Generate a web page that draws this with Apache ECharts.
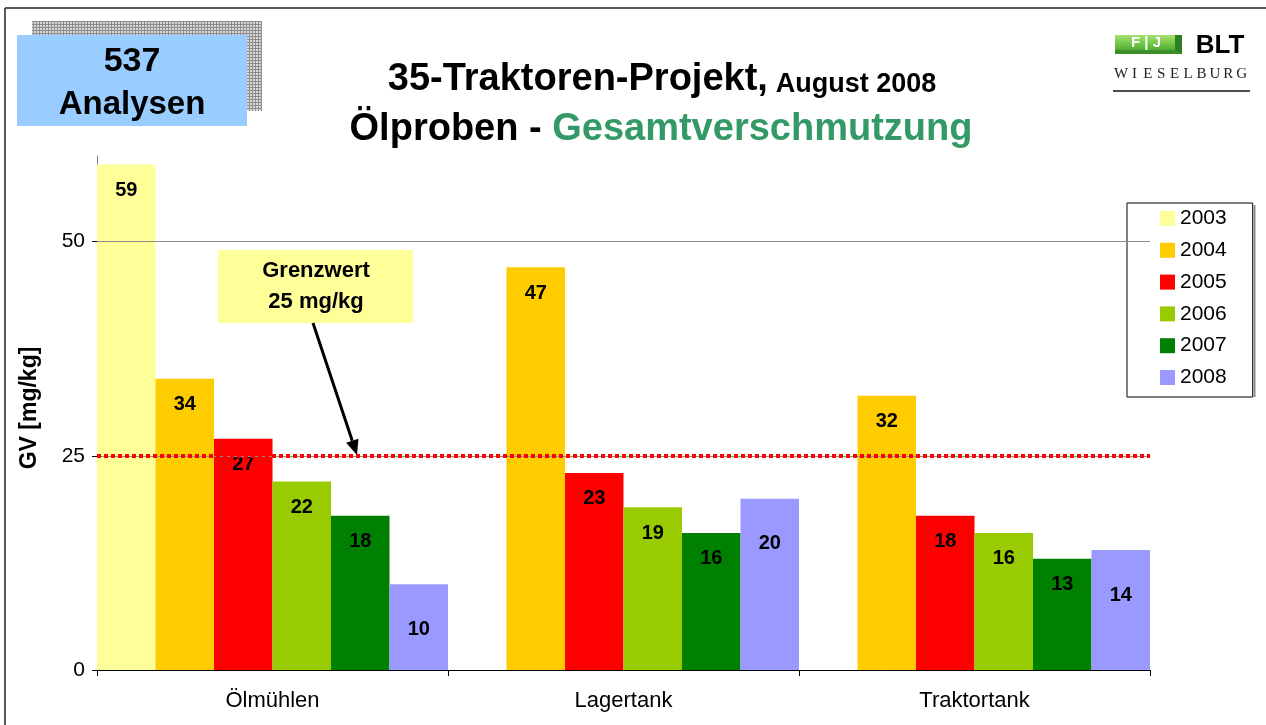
<!DOCTYPE html>
<html>
<head>
<meta charset="utf-8">
<script src="https://cdn.jsdelivr.net/npm/echarts@6/dist/echarts.min.js"></script>
<style>
html,body{margin:0;padding:0;background:#fff;}
#chart{width:1266px;height:725px;}
</style>
</head>
<body>
<div id="chart"></div>
<script>
// ---- data ----
const categories = ['Ölmühlen', 'Lagertank', 'Traktortank'];
const years = ['2003', '2004', '2005', '2006', '2007', '2008'];
const v2003 = [59, null, null];
const v2004 = [34, 47, 32];
const v2005 = [27, 23, 18];
const v2006 = [22, 19, 16];
const v2007 = [18, 16, 13];
const v2008 = [10, 20, 14];
const yTicks = [0, 25, 50];
const limitValue = 25;
const analysesCount = '537';

// ---- styling ----
const FONT = 'Liberation Sans, Arial, sans-serif';
const colors = ['#FFFF99', '#FFCC00', '#FF0000', '#99CC00', '#008000', '#9999FF'];
const seriesValues = [v2003, v2004, v2005, v2006, v2007, v2008];
const labelDistances = [16, 16, 16, 16, 16, 35];

// pattern for the shadow box
const pc = document.createElement('canvas');
pc.width = 3; pc.height = 3;
const pctx = pc.getContext('2d');
pctx.fillStyle = '#d8d8d8'; pctx.fillRect(0, 0, 3, 3);
pctx.fillStyle = '#8c8c8c'; pctx.fillRect(0, 0, 3, 1); pctx.fillRect(0, 0, 1, 3);

const chart = echarts.init(document.getElementById('chart'), null, {renderer: 'canvas'});

const barSeries = years.map((y, i) => ({
  name: y,
  type: 'bar',
  data: seriesValues[i],
  barGap: '0%',
  barCategoryGap: '0%',
  itemStyle: {color: colors[i], borderWidth: 0},
  label: {
    show: true,
    position: 'insideTop',
    distance: labelDistances[i],
    color: '#000',
    fontFamily: FONT,
    fontSize: 20,
    fontWeight: 'bold'
  },
  emphasis: {disabled: true},
  z: 2
}));

// arrow geometry (annotation)
const tip = [357, 455], tail = [313, 323];
const dx = tip[0] - tail[0], dy = tip[1] - tail[1];
const len = Math.sqrt(dx * dx + dy * dy);
const ux = dx / len, uy = dy / len;
const headL = 15, headW = 6.5;
const base = [tip[0] - ux * headL, tip[1] - uy * headL];
const px = -uy * headW, py = ux * headW;

const wieselburg = 'WIESELBURG'.split('').map((ch, i) => ({
  type: 'text',
  x: 1121 + i * 13.4,
  y: 74,
  style: {text: ch, fontFamily: 'Liberation Serif, Times New Roman, serif', fontSize: 15, fill: '#222', textAlign: 'center', textVerticalAlign: 'middle'}
}));

const option = {
  backgroundColor: '#fff',
  animation: false,
  grid: {left: 97, right: 116, top: 156, bottom: 55, containLabel: false, outerBoundsMode: 'none'},
  legend: {
    data: years,
    orient: 'vertical',
    left: 1127,
    top: 203,
    padding: [5, 26, 9, 33],
    itemGap: 10.8,
    itemWidth: 15,
    itemHeight: 15,
    icon: 'rect',
    selectedMode: false,
    backgroundColor: '#fff',
    borderColor: '#000',
    borderWidth: 1,
    borderRadius: 0,
    itemStyle: {borderWidth: 0},
    textStyle: {fontFamily: FONT, fontSize: 21, color: '#000', lineHeight: 20}
  },
  xAxis: {
    type: 'category',
    data: categories,
    boundaryGap: true,
    axisLine: {show: true, lineStyle: {color: '#000', width: 1}},
    axisTick: {show: true, length: 6, lineStyle: {color: '#000'}},
    axisLabel: {fontFamily: FONT, fontSize: 22, color: '#000', margin: 20},
    splitLine: {show: false}
  },
  yAxis: {
    type: 'value',
    min: 0,
    max: 60,
    interval: 25,
    axisLine: {show: true, lineStyle: {color: '#808080', width: 1}},
    axisTick: {show: true, length: 5, inside: false, lineStyle: {color: '#000'}, customValues: yTicks},
    axisLabel: {fontFamily: FONT, fontSize: 21, color: '#000', margin: 12, customValues: yTicks},
    splitLine: {show: false}
  },
  series: barSeries.concat([
    {
      type: 'line',
      data: [],
      silent: true,
      z: 1,
      markLine: {
        silent: true,
        symbol: 'none',
        label: {show: false},
        lineStyle: {color: '#8c8c8c', width: 1.2, type: 'solid'},
        data: yTicks.filter(t => t > 0).map(t => ({yAxis: t}))
      }
    },
    {
      type: 'line',
      data: [],
      silent: true,
      z: 5,
      markLine: {
        silent: true,
        symbol: 'none',
        label: {show: false},
        lineStyle: {color: '#FF0000', width: 4, type: [4, 3]},
        data: [{yAxis: limitValue}]
      }
    }
  ]),
  graphic: [
    // outer frame
    {type: 'line', shape: {x1: 5, y1: 8, x2: 1266, y2: 8}, style: {stroke: '#222', lineWidth: 1.5}, z: 50},
    {type: 'line', shape: {x1: 5, y1: 8, x2: 5, y2: 725}, style: {stroke: '#222', lineWidth: 1.5}, z: 50},
    // legend right shade
    {type: 'line', shape: {x1: 1254.5, y1: 205, x2: 1254.5, y2: 397}, style: {stroke: '#8a8a8a', lineWidth: 2}, z: 50},
    // analyses box
    {type: 'rect', shape: {x: 32, y: 21, width: 230, height: 90}, style: {fill: {image: pc, repeat: 'repeat'}}, z: 50},
    {type: 'rect', shape: {x: 17, y: 35, width: 230, height: 91}, style: {fill: '#99CCFF'}, z: 51},
    {type: 'text', x: 132, y: 62, z: 52, style: {text: analysesCount, fontFamily: FONT, fontSize: 34, fontWeight: 'bold', fill: '#000', textAlign: 'center', textVerticalAlign: 'middle'}},
    {type: 'text', x: 132, y: 105, z: 52, style: {text: 'Analysen', fontFamily: FONT, fontSize: 33, fontWeight: 'bold', fill: '#000', textAlign: 'center', textVerticalAlign: 'middle'}},
    // title
    {type: 'text', x: 662, y: 80, z: 52, style: {
      text: '{a|35-Traktoren-Projekt,}{s| }{b|August 2008}',
      rich: {
        a: {fontFamily: FONT, fontSize: 38, fontWeight: 'bold', fill: '#000', verticalAlign: 'bottom'},
        s: {fontFamily: FONT, fontSize: 28, verticalAlign: 'bottom'},
        b: {fontFamily: FONT, fontSize: 27, fontWeight: 'bold', fill: '#000', verticalAlign: 'bottom', padding: [0, 0, 1, 0]}
      },
      textAlign: 'center', textVerticalAlign: 'middle'}},
    {type: 'text', x: 661, y: 130, z: 52, style: {
      text: '{a|Ölproben - }{g|Gesamtverschmutzung}',
      rich: {
        a: {fontFamily: FONT, fontSize: 38, fontWeight: 'bold', fill: '#000'},
        g: {fontFamily: FONT, fontSize: 38, fontWeight: 'bold', fill: '#339966'}
      },
      textAlign: 'center', textVerticalAlign: 'middle'}},
    // logo
    {type: 'rect', shape: {x: 1115, y: 35, width: 67, height: 19}, z: 52, style: {fill: new echarts.graphic.LinearGradient(0, 0, 0, 1, [{offset: 0, color: '#a8e070'}, {offset: 0.5, color: '#6cc444'}, {offset: 1, color: '#3f9a2c'}])}},
    {type: 'polygon', shape: {points: [[1175, 35], [1182, 35], [1182, 54], [1175, 50]]}, z: 53, style: {fill: '#2e7f22'}},
    {type: 'polygon', shape: {points: [[1115, 50], [1175, 50], [1182, 54], [1115, 54]]}, z: 53, style: {fill: '#3a8f2a'}},
    {type: 'text', x: 1146, y: 43, z: 54, style: {text: 'F | J', fontFamily: FONT, fontSize: 15, fontWeight: 'bold', fill: '#fff', textAlign: 'center', textVerticalAlign: 'middle'}},
    {type: 'text', x: 1220, y: 46, z: 54, style: {text: 'BLT', fontFamily: FONT, fontSize: 26, fontWeight: 'bold', fill: '#000', textAlign: 'center', textVerticalAlign: 'middle'}},
    {type: 'line', shape: {x1: 1113, y1: 91, x2: 1250, y2: 91}, z: 52, style: {stroke: '#111', lineWidth: 1.5}},
    // y-axis name
    {type: 'text', x: 30, y: 408, rotation: Math.PI / 2, z: 52, style: {text: 'GV [mg/kg]', fontFamily: FONT, fontSize: 23, fontWeight: 'bold', fill: '#000', textAlign: 'center', textVerticalAlign: 'middle'}},
    // limit annotation
    {type: 'rect', shape: {x: 218, y: 250, width: 195, height: 73}, z: 52, style: {fill: '#FFFF99'}},
    {type: 'text', x: 316, y: 271, z: 53, style: {text: 'Grenzwert', fontFamily: FONT, fontSize: 22, fontWeight: 'bold', fill: '#000', textAlign: 'center', textVerticalAlign: 'middle'}},
    {type: 'text', x: 316, y: 302, z: 53, style: {text: limitValue + ' mg/kg', fontFamily: FONT, fontSize: 22, fontWeight: 'bold', fill: '#000', textAlign: 'center', textVerticalAlign: 'middle'}},
    {type: 'line', shape: {x1: tail[0], y1: tail[1], x2: base[0], y2: base[1]}, z: 53, style: {stroke: '#000', lineWidth: 3}},
    {type: 'polygon', shape: {points: [tip, [base[0] + px, base[1] + py], [base[0] - px, base[1] - py]]}, z: 53, style: {fill: '#000'}}
  ].concat(wieselburg.map(e => Object.assign(e, {z: 52})))
};

chart.setOption(option);
</script>
</body>
</html>
